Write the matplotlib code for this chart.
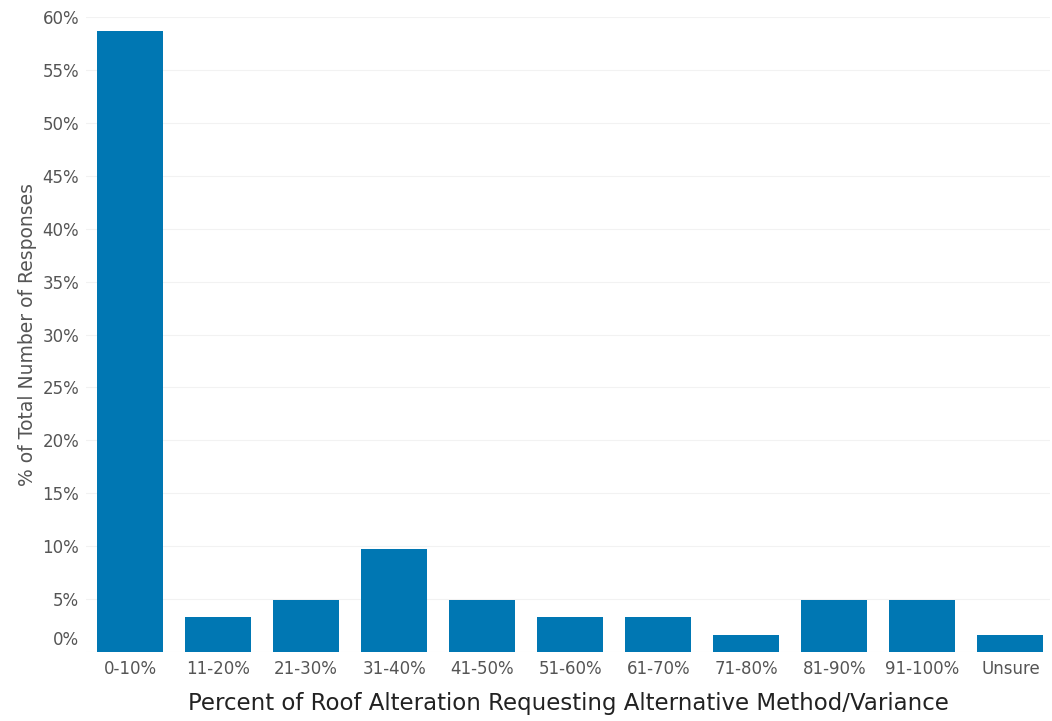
import matplotlib
matplotlib.use("Agg")
import matplotlib.pyplot as plt
import matplotlib.transforms as mtransforms

# data
categories = ["0-10%", "11-20%", "21-30%", "31-40%", "41-50%", "51-60%",
              "61-70%", "71-80%", "81-90%", "91-100%", "Unsure"]
percent_responses = [58.7, 3.3, 4.9, 9.7, 4.9, 3.3, 3.3, 1.6, 4.9, 4.9, 1.6]
y_ticks = [0, 5, 10, 15, 20, 25, 30, 35, 40, 45, 50, 55, 60]

plt.rcParams['font.family'] = ['DejaVu Sans']

fig = plt.figure(figsize=(10.52, 7.21), dpi=100)
ax = fig.add_axes([86 / 1052, 1 - 652 / 721, 964 / 1052, 635 / 721])

x = range(len(categories))
ax.bar(x, percent_responses, width=0.75, color="#0077b3", zorder=2)

ax.set_xlim(-0.5, 10.45)
ax.set_ylim(0, 60)
ax.set_yticks(y_ticks)
ax.set_yticklabels([f"{t}%" for t in y_ticks])
ax.set_xticks(list(x))
ax.set_xticklabels(categories)

ax.grid(axis="y", color="#f2f2f2", linewidth=0.8, zorder=0)
for s in ax.spines.values():
    s.set_visible(False)
ax.tick_params(axis="both", length=0, labelsize=12, labelcolor="#555555")
ax.tick_params(axis="y", pad=5)
ax.tick_params(axis="x", pad=6)

# the 0% label sits a bit higher than the baseline in the original
lbl0 = ax.get_yticklabels()[0]
lbl0.set_transform(lbl0.get_transform() + mtransforms.ScaledTranslation(0, 14 / 100, fig.dpi_scale_trans))

ax.set_ylabel("% of Total Number of Responses", fontsize=13.5, color="#555555", labelpad=4)
ax.set_xlabel("Percent of Roof Alteration Requesting Alternative Method/Variance",
              fontsize=16.5, color="#222222", labelpad=10)

fig.savefig("out.png", dpi=100)
